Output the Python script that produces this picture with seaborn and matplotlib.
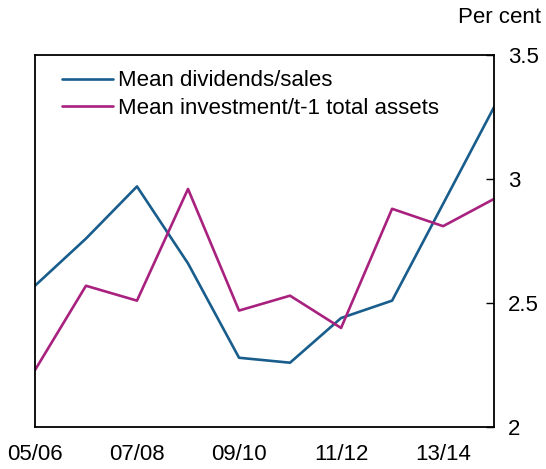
import matplotlib
matplotlib.use("Agg")
import matplotlib.pyplot as plt
import seaborn as sns
import pandas as pd

years = ["05/06", "06/07", "07/08", "08/09", "09/10", "10/11", "11/12", "12/13", "13/14", "14/15"]
dividends_sales = [2.57, 2.76, 2.97, 2.66, 2.28, 2.26, 2.44, 2.51, 2.90, 3.29]
investment_assets = [2.23, 2.57, 2.51, 2.96, 2.47, 2.53, 2.40, 2.88, 2.81, 2.92]
xtick_labels = ["05/06", "07/08", "09/10", "11/12", "13/14"]
ytick_values = [2, 2.5, 3, 3.5]

sns.set_style("white")
plt.rcParams["font.family"] = ["Liberation Sans", "DejaVu Sans"]
plt.rcParams["text.color"] = "black"

df = pd.DataFrame({
    "idx": list(range(len(years))) * 2,
    "value": dividends_sales + investment_assets,
    "series": ["Mean dividends/sales"] * len(years) + ["Mean investment/t-1 total assets"] * len(years),
})

FS = 16
fig = plt.figure(figsize=(5.46, 4.69), dpi=100)
ax = fig.add_axes([0.064, 0.089, 0.841, 0.794])
sns.lineplot(data=df, x="idx", y="value", hue="series",
             palette=["#185d8c", "#a8217f"], linewidth=1.9, ax=ax)

ax.set_xlim(0, len(years) - 1)
ax.set_ylim(2, 3.5)
ax.set_xticks([years.index(t) for t in xtick_labels])
ax.set_xticklabels(xtick_labels)
ax.set_yticks(ytick_values)
ax.set_yticklabels(["2", "2.5", "3", "3.5"])
ax.yaxis.tick_right()
ax.tick_params(axis="both", direction="in", length=6, width=1, labelsize=FS, colors="black")
ax.tick_params(axis="x", pad=12)
ax.tick_params(axis="y", pad=10, left=False)
ax.set_xlabel("")
ax.set_ylabel("")
for s in ax.spines.values():
    s.set_visible(True)
    s.set_color("black")
    s.set_linewidth(1.3)

leg = ax.legend(loc="upper left", frameon=False, fontsize=FS, handlelength=2.3,
                handletextpad=0.25, borderaxespad=0.3, labelspacing=0.3,
                bbox_to_anchor=(0.024, 1.0))
for t in leg.get_texts():
    t.set_color("black")
fig.text(0.99, 0.985, "Per cent", ha="right", va="top", fontsize=FS)

fig.savefig("out.png", dpi=100)
